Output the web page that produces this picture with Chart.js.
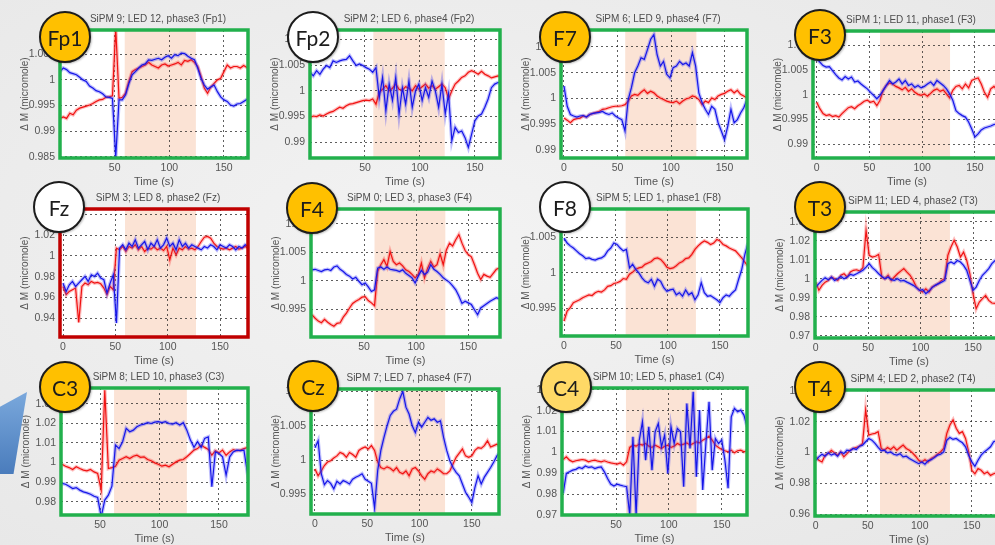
<!DOCTYPE html>
<html>
<head>
<meta charset="utf-8">
<title>fNIRS channel responses</title>
<script src="https://cdn.jsdelivr.net/npm/chart.js@4.4.1/dist/chart.umd.min.js"></script>
<style>
  html, body { margin: 0; padding: 0; }
  body {
    width: 995px; height: 545px; overflow: hidden; position: relative;
    background: radial-gradient(ellipse at 45% 45%, #f3f3f3 0%, #e7e7e7 100%);
    font-family: "Liberation Sans", Arial, sans-serif;
  }
  canvas.panel { position: absolute; }
  .badge {
    position: absolute; width: 48px; height: 48px; border: 2px solid #1c1c1c;
    border-radius: 50%; display: flex; align-items: center; justify-content: center;
    font-family: Lato, "Open Sans", sans-serif; font-size: 21px; color: #1c1c1c;
    z-index: 5; box-shadow: 1px 1px 2px rgba(0,0,0,0.25);
  }
  .badge.amber { background: #ffc000; }
  .badge.pale  { background: #ffd966; }
  .badge.blank { background: #ffffff; }
  .tab {
    position: absolute; left: 0; top: 392px; width: 30px; height: 82px; z-index: 1;
    background: linear-gradient(180deg, #7aa8dc 0%, #4a7cbc 100%);
    clip-path: polygon(0 18%, 90% 0, 45% 100%, 0 100%);
  }
</style>
</head>
<body>
<div class="tab"></div>
<script>
// sample times (s)
const seconds = [0,3,6,9,12,15,18,21,24,27,30,33,36,39,42,45,48,51,54,57,60,63,66,69,72,75,78,81,84,87,90,93,96,99,102,105,108,111,114,117,120,123,126,129,132,135,138,141,144,147,150,153,156,159,162,165,168,171,174,177,180];

// ---- oxy (red) / deoxy (blue) traces, one pair per channel ----
const fp1Red = [0.9925,0.9928,0.9925,0.9935,0.9932,0.9941,0.9945,0.9947,0.9949,0.9951,0.9954,0.9958,0.9961,0.9962,0.9966,0.9967,0.9969,1.0100,0.9964,0.9966,0.9974,0.9997,1.0016,1.0020,1.0023,1.0026,1.0029,1.0034,1.0029,1.0026,1.0023,1.0029,1.0031,1.0027,1.0029,1.0031,1.0034,1.0029,1.0038,1.0036,1.0039,1.0034,1.0026,1.0007,0.9984,0.9974,0.9986,0.9993,1.0000,1.0003,1.0016,1.0029,1.0023,1.0026,1.0026,1.0023,1.0028,1.0024,1.0027];
const fp1Blue = [1.0016,1.0023,1.0020,1.0014,1.0012,1.0010,1.0005,1.0000,0.9997,0.9988,0.9984,0.9979,0.9977,0.9973,0.9967,0.9966,0.9964,0.9850,0.9961,0.9961,0.9971,0.9993,1.0010,1.0016,1.0023,1.0029,1.0031,1.0039,1.0038,1.0040,1.0042,1.0039,1.0044,1.0047,1.0042,1.0049,1.0047,1.0052,1.0051,1.0046,1.0042,1.0039,1.0023,1.0003,0.9990,0.9982,0.9986,0.9990,0.9977,0.9967,0.9961,0.9958,0.9951,0.9949,0.9953,0.9954,0.9958,0.9962,0.9961];

const fp2Red = [0.9948,0.9951,0.9950,0.9953,0.9951,0.9955,0.9958,0.9960,0.9964,0.9968,0.9966,0.9971,0.9974,0.9975,0.9977,0.9979,0.9981,0.9982,0.9981,0.9984,0.9974,0.9997,1.0003,1.0010,1.0000,1.0005,1.0013,1.0003,1.0001,1.0008,1.0005,1.0000,1.0010,1.0003,1.0008,1.0013,1.0005,1.0010,1.0003,1.0008,1.0013,1.0006,0.9984,1.0000,1.0013,1.0019,1.0026,1.0029,1.0036,1.0039,1.0036,1.0032,1.0038,1.0032,1.0029,1.0025,1.0027,1.0029,1.0027];
const fp2Blue = [1.0036,1.0029,1.0039,1.0032,1.0042,1.0049,1.0045,1.0058,1.0055,1.0058,1.0060,1.0061,1.0068,1.0058,1.0049,1.0052,1.0049,1.0045,1.0042,1.0036,1.0045,0.9987,1.0026,0.9961,1.0013,0.9981,1.0026,0.9955,1.0006,0.9974,1.0019,0.9968,1.0000,1.0013,0.9981,1.0006,0.9987,1.0019,1.0000,0.9968,1.0013,0.9955,0.9994,0.9903,0.9929,0.9919,0.9922,0.9909,0.9890,0.9916,0.9942,0.9951,0.9955,0.9968,0.9984,1.0006,1.0013,1.0016,1.0016];

const f7Red = [0.9962,0.9958,0.9953,0.9959,0.9961,0.9962,0.9966,0.9964,0.9969,0.9971,0.9973,0.9975,0.9979,0.9980,0.9982,0.9984,0.9985,0.9985,0.9986,0.9988,0.9995,1.0005,1.0008,1.0006,1.0012,1.0017,1.0010,1.0014,1.0011,1.0005,1.0001,0.9998,0.9995,0.9993,0.9992,0.9995,0.9990,0.9995,0.9999,1.0001,1.0005,1.0003,0.9998,0.9988,0.9995,0.9992,1.0001,0.9998,1.0005,1.0008,1.0010,1.0014,1.0017,1.0011,1.0016,1.0008,1.0005,1.0001,0.9999];
const f7Blue = [1.0024,0.9985,0.9969,0.9966,0.9964,0.9966,0.9967,0.9964,0.9969,0.9971,0.9972,0.9973,0.9975,0.9971,0.9969,0.9972,0.9966,0.9962,0.9959,0.9937,0.9998,1.0021,1.0050,1.0063,1.0079,1.0076,1.0095,1.0115,1.0124,1.0085,1.0063,1.0072,1.0047,1.0040,1.0060,1.0063,1.0072,1.0066,1.0069,1.0063,1.0089,1.0063,1.0011,0.9992,0.9979,0.9969,0.9985,0.9979,0.9953,0.9937,0.9920,0.9946,0.9979,0.9953,0.9959,0.9972,0.9982,0.9998,1.0001];

const f3Red = [0.9985,0.9972,0.9962,0.9958,0.9960,0.9956,0.9958,0.9955,0.9962,0.9968,0.9974,0.9976,0.9972,0.9978,0.9982,0.9987,0.9989,0.9985,0.9987,0.9978,0.9989,1.0009,1.0019,1.0024,1.0022,1.0017,1.0014,1.0010,1.0015,1.0007,1.0012,1.0005,1.0001,0.9999,1.0002,0.9997,1.0003,1.0009,1.0012,1.0007,1.0010,1.0002,0.9994,1.0009,1.0017,1.0019,1.0012,1.0022,1.0014,1.0029,1.0032,1.0034,1.0022,1.0005,0.9995,1.0012,1.0017,1.0010,1.0015,1.0012];
const f3Blue = [1.0073,1.0066,1.0059,1.0056,1.0057,1.0049,1.0041,1.0034,1.0030,1.0037,1.0032,1.0036,1.0026,1.0028,1.0022,1.0017,1.0012,1.0005,0.9999,0.9992,0.9999,1.0009,1.0019,1.0029,1.0022,1.0026,1.0032,1.0022,1.0029,1.0019,1.0022,1.0015,1.0019,1.0014,1.0017,1.0022,1.0026,1.0019,1.0029,1.0024,1.0019,1.0012,1.0002,0.9989,0.9968,0.9962,0.9958,0.9955,0.9945,0.9931,0.9915,0.9921,0.9929,0.9933,0.9935,0.9937,0.9940,0.9941,0.9944,0.9942];

const fzRed = [0.9706,0.9626,0.9658,0.9674,0.9690,0.9360,0.9706,0.9738,0.9722,0.9754,0.9738,0.9744,0.9731,0.9690,0.9626,0.9706,0.9674,1.0074,1.0058,1.0090,1.0042,1.0090,1.0074,1.0106,1.0058,1.0090,1.0042,1.0074,1.0064,1.0090,1.0058,1.0074,1.0051,1.0090,0.9962,1.0074,1.0010,1.0074,1.0058,1.0090,1.0064,1.0074,1.0058,1.0090,1.0138,1.0179,1.0186,1.0170,1.0122,1.0090,1.0074,1.0064,1.0074,1.0058,1.0074,1.0090,1.0064,1.0074,1.0090,1.0074];
const fzBlue = [0.9738,0.9658,0.9722,0.9754,0.9706,0.9738,0.9770,0.9802,0.9754,0.9818,0.9802,0.9834,0.9786,0.9770,0.9642,0.9738,0.9818,0.9354,1.0074,1.0106,1.0058,1.0122,1.0090,1.0154,1.0074,1.0106,1.0138,1.0058,1.0122,1.0090,1.0154,1.0074,1.0106,1.0170,1.0090,1.0122,1.0058,1.0154,1.0090,1.0122,1.0074,1.0106,1.0090,1.0074,1.0058,1.0090,1.0074,1.0106,1.0090,1.0058,1.0106,1.0090,1.0074,1.0106,1.0090,1.0058,1.0090,1.0074,1.0106,1.0090];

const f4Red = [0.9940,0.9934,0.9929,0.9926,0.9932,0.9927,0.9923,0.9920,0.9925,0.9926,0.9936,0.9943,0.9952,0.9960,0.9964,0.9967,0.9971,0.9972,0.9965,0.9961,0.9956,1.0016,1.0028,1.0037,1.0025,1.0051,1.0034,1.0028,1.0031,1.0026,1.0019,1.0016,1.0011,1.0005,1.0011,1.0031,1.0005,1.0022,1.0034,1.0024,1.0028,1.0047,1.0028,1.0054,1.0066,1.0061,1.0072,1.0081,1.0066,1.0053,1.0046,1.0042,1.0028,1.0013,1.0002,1.0011,1.0008,1.0006,1.0013,1.0020,1.0022];
const f4Blue = [1.0019,1.0020,1.0018,1.0016,1.0019,1.0020,1.0018,1.0024,1.0026,1.0020,1.0016,1.0011,1.0008,1.0003,1.0006,0.9999,0.9993,0.9996,0.9989,0.9981,0.9984,1.0022,1.0024,1.0020,1.0024,1.0020,1.0019,1.0018,1.0016,1.0019,1.0013,1.0009,1.0005,0.9996,1.0008,1.0018,1.0011,1.0015,1.0028,1.0020,1.0016,1.0011,1.0005,1.0001,0.9997,0.9991,0.9984,0.9973,0.9960,0.9964,0.9961,0.9958,0.9949,0.9940,0.9952,0.9956,0.9960,0.9964,0.9967,0.9970,0.9968];

const f8Red = [0.9932,0.9946,0.9951,0.9958,0.9960,0.9962,0.9965,0.9967,0.9969,0.9968,0.9972,0.9974,0.9973,0.9976,0.9981,0.9982,0.9985,0.9986,0.9988,0.9992,0.9991,0.9998,1.0001,1.0005,1.0007,1.0008,1.0012,1.0014,1.0016,1.0020,1.0021,1.0019,1.0014,1.0008,1.0006,1.0007,1.0010,1.0014,1.0016,1.0020,1.0021,1.0026,1.0033,1.0038,1.0042,1.0045,1.0043,1.0040,1.0042,1.0047,1.0045,1.0040,1.0038,1.0035,1.0033,1.0031,1.0026,1.0021,1.0015,1.0009,1.0007];
const f8Blue = [1.0049,1.0042,1.0038,1.0035,1.0031,1.0027,1.0024,1.0020,1.0021,1.0019,1.0018,1.0020,1.0021,1.0024,1.0031,1.0035,1.0042,1.0040,1.0035,1.0031,1.0033,1.0007,1.0012,1.0005,1.0000,0.9993,0.9988,0.9986,0.9991,0.9981,0.9991,0.9988,0.9979,0.9974,0.9976,0.9977,0.9969,0.9972,0.9967,0.9976,0.9969,0.9972,0.9962,0.9969,0.9986,0.9972,0.9967,0.9968,0.9965,0.9962,0.9958,0.9965,0.9969,0.9967,0.9972,0.9976,0.9991,1.0005,1.0026,1.0042,1.0049];

const t3Red = [0.9982,0.9939,0.9965,0.9982,0.9991,1.0009,1.0000,0.9991,1.0018,1.0026,1.0009,1.0035,1.0044,1.0047,1.0040,1.0058,1.0254,1.0123,1.0114,1.0118,1.0128,1.0009,1.0000,1.0018,0.9991,1.0009,1.0026,1.0040,1.0053,1.0035,1.0018,0.9991,0.9956,0.9939,0.9930,0.9947,0.9930,0.9956,0.9965,0.9974,0.9991,1.0000,1.0123,1.0167,1.0202,1.0167,1.0114,1.0140,1.0096,1.0026,0.9921,0.9842,0.9877,0.9895,0.9912,0.9886,0.9872,0.9870,0.9880,0.9865,0.9875];
const t3Blue = [0.9956,0.9974,0.9991,1.0005,0.9995,1.0009,0.9991,1.0000,1.0012,1.0000,1.0009,1.0023,1.0018,1.0026,1.0035,1.0044,1.0061,1.0079,1.0058,1.0044,1.0026,1.0012,1.0000,1.0009,0.9995,0.9991,1.0000,0.9988,0.9991,0.9982,0.9974,0.9965,0.9953,0.9939,0.9942,0.9921,0.9935,0.9953,0.9965,0.9974,0.9982,0.9991,1.0079,1.0088,1.0079,1.0096,1.0088,1.0070,1.0044,0.9991,0.9939,0.9956,0.9991,1.0018,1.0035,1.0053,1.0079,1.0096,1.0100,1.0110,1.0105];

const c3Red = [null,null,null,null,null,null,0.9991,0.9981,0.9974,0.9964,0.9978,0.9969,0.9961,0.9957,0.9964,0.9952,0.9944,0.9859,1.0369,0.9969,0.9974,0.9981,1.0012,1.0020,1.0029,1.0020,1.0032,1.0037,1.0026,1.0029,1.0015,1.0009,0.9998,0.9991,0.9981,0.9986,0.9978,0.9991,1.0003,1.0012,1.0015,1.0029,1.0046,1.0063,1.0071,1.0089,1.0077,1.0066,1.0037,1.0060,1.0049,1.0063,1.0037,1.0054,1.0066,1.0060,1.0063,1.0071,1.0077,1.0070];
const c3Blue = [null,null,null,null,null,null,0.9893,0.9889,0.9879,0.9867,0.9872,0.9859,0.9850,0.9845,0.9838,0.9828,0.9821,0.9723,0.9808,0.9833,0.9879,1.0089,1.0071,1.0106,1.0174,1.0157,1.0165,1.0182,1.0191,1.0196,1.0203,1.0199,1.0206,1.0208,1.0203,1.0208,1.0199,1.0196,1.0203,1.0191,1.0203,1.0165,1.0114,1.0077,1.0106,1.0077,1.0123,1.0131,0.9876,1.0054,1.0046,1.0029,0.9935,1.0029,1.0054,1.0063,1.0060,1.0063,0.9944,1.0050];

const czRed = [0.9987,0.9977,0.9984,0.9992,0.9997,0.9999,1.0003,1.0006,1.0011,1.0009,1.0004,1.0011,1.0008,1.0004,1.0014,1.0017,1.0019,1.0016,1.0021,1.0014,0.9997,0.9989,0.9987,0.9990,0.9988,0.9984,0.9989,0.9982,0.9980,0.9984,0.9977,0.9987,0.9989,0.9984,0.9977,0.9972,0.9980,0.9984,0.9982,0.9987,0.9984,0.9980,0.9980,0.9984,0.9994,1.0004,1.0010,1.0016,1.0006,1.0004,1.0006,1.0014,1.0018,1.0017,1.0021,1.0028,1.0019,1.0021,1.0023,1.0020];
const czBlue = [1.0018,1.0028,0.9980,0.9964,0.9970,0.9966,0.9958,0.9969,0.9965,0.9970,0.9968,0.9965,0.9972,0.9975,0.9977,0.9980,0.9972,0.9969,0.9966,0.9930,0.9985,1.0014,1.0033,1.0050,1.0065,1.0071,1.0074,1.0089,1.0100,1.0077,1.0067,1.0050,1.0040,1.0055,1.0048,1.0055,1.0062,1.0058,1.0060,1.0055,1.0057,1.0033,1.0014,0.9999,0.9989,0.9982,0.9977,0.9965,0.9953,0.9946,0.9938,0.9960,0.9977,0.9965,0.9975,0.9982,0.9989,0.9997,1.0006,1.0012];

const c4Red = [0.9966,0.9979,0.9963,0.9955,0.9960,0.9963,0.9966,0.9963,0.9955,0.9960,0.9963,0.9958,0.9955,0.9960,0.9954,0.9950,0.9947,0.9944,0.9950,0.9939,0.9955,1.0024,1.0035,1.0030,1.0040,1.0035,1.0043,1.0030,1.0024,1.0035,1.0027,1.0019,1.0030,1.0035,1.0024,1.0030,1.0043,1.0035,1.0040,1.0046,1.0035,1.0043,1.0051,1.0046,1.0059,1.0067,1.0078,1.0059,1.0035,1.0024,1.0014,1.0008,1.0003,1.0011,0.9998,1.0008,1.0011,1.0003,1.0008];
const c4Blue = [0.9804,0.9899,0.9907,0.9915,0.9919,0.9928,0.9923,0.9935,0.9928,0.9931,0.9923,0.9928,0.9931,0.9907,0.9875,0.9848,0.9839,0.9848,0.9843,0.9839,0.9836,0.9700,1.0075,0.9700,1.0059,1.0147,0.9963,1.0123,0.9915,1.0099,1.0139,1.0027,1.0083,0.9899,1.0123,1.0043,1.0115,1.0099,0.9836,1.0235,1.0019,1.0291,0.9883,1.0203,0.9820,1.0043,1.0243,0.9915,1.0067,1.0043,1.0059,0.9963,0.9828,1.0171,1.0211,1.0195,1.0203,1.0179,1.0123];

const t4Red = [0.9972,0.9950,0.9939,0.9983,0.9993,1.0015,0.9998,0.9983,1.0004,0.9972,0.9993,1.0015,1.0026,1.0033,1.0041,1.0059,1.0276,1.0113,1.0120,1.0124,1.0135,1.0026,1.0015,1.0033,1.0020,1.0037,1.0015,1.0033,1.0048,1.0026,1.0015,0.9998,0.9976,0.9950,0.9939,0.9954,0.9939,0.9961,0.9972,0.9989,1.0004,1.0026,1.0124,1.0178,1.0211,1.0157,1.0124,1.0135,1.0091,1.0004,0.9885,0.9863,0.9896,0.9885,0.9863,0.9874,0.9852,0.9863,0.9870,0.9858,0.9866];
const t4Blue = [0.9950,0.9972,0.9989,0.9976,0.9998,0.9983,0.9993,0.9976,1.0004,0.9993,1.0015,1.0011,1.0026,1.0020,1.0041,1.0048,1.0070,1.0091,1.0080,1.0059,1.0033,1.0011,1.0015,0.9998,1.0004,0.9989,0.9983,0.9993,0.9972,0.9976,0.9961,0.9950,0.9939,0.9928,0.9939,0.9924,0.9946,0.9954,0.9967,0.9983,0.9989,1.0004,1.0080,1.0098,1.0085,1.0091,1.0076,1.0063,1.0037,0.9983,0.9939,0.9911,0.9950,0.9983,1.0004,1.0020,1.0037,1.0070,1.0078,1.0085,1.0080];

// ---- per-channel labels, stimulus windows, axis limits and tick labels ----
const channelNames = ['Fp1','Fp2','F7','F3','Fz','F4','F8','T3','C3','Cz','C4','T4'];
const panelTitles = [
  'SiPM 9; LED 12, phase3 (Fp1)', 'SiPM 2; LED 6, phase4 (Fp2)', 'SiPM 6; LED 9, phase4 (F7)', 'SiPM 1; LED 11, phase1 (F3)',
  'SiPM 3; LED 8, phase2 (Fz)',   'SiPM 0; LED 3, phase3 (F4)',  'SiPM 5; LED 1, phase1 (F8)', 'SiPM 11; LED 4, phase2 (T3)',
  'SiPM 8; LED 10, phase3 (C3)',  'SiPM 7; LED 7, phase4 (F7)',  'SiPM 10; LED 5, phase1 (C4)', 'SiPM 4; LED 2, phase2 (T4)'
];
const redSeries  = [fp1Red, fp2Red, f7Red, f3Red, fzRed, f4Red, f8Red, t3Red, c3Red, czRed, c4Red, t4Red];
const blueSeries = [fp1Blue, fp2Blue, f7Blue, f3Blue, fzBlue, f4Blue, f8Blue, t3Blue, c3Blue, czBlue, c4Blue, t4Blue];
const stimWindows = [[59.2,124.3],[57.6,122.5],[57.2,123.7],[60,126.4],[59.2,127],[60,128],[59.3,126.9],[61.3,128],[61.8,123],[56.7,124.4],[59.4,126.2],[61.8,129]];
const xLimits = [[0,172],[0,172.8],[-2.8,171],[-3.5,174.7],[-2.9,176.7],[-1,180.5],[-2.9,177],[-0.7,178.6],[17.2,174.4],[-3.8,176],[-1.1,173.9],[-0.7,180]];
const yLimits = [[0.9848,1.0097],[0.98695,1.0118],[0.98845,1.0133],[0.98723,1.0129],[0.922,1.045],[0.9901,1.0126],[0.9911,1.009],[0.9688,1.0351],[0.9732,1.038],[0.99213,1.01035],[0.97,1.0309],[0.9589,1.0405]];
const xTickValues = [[50,100,150],[50,100,150],[0,50,100,150],[0,50,100,150],[0,50,100,150],[50,100,150],[0,50,100,150],[0,50,100,150],[50,100,150],[0,50,100,150],[50,100,150],[0,50,100,150]];
const yTickValues = [
  [0.985,0.99,0.995,1,1.005], [0.99,0.995,1,1.005,1.01], [0.99,0.995,1,1.005,1.01], [0.99,0.995,1,1.005,1.01],
  [0.94,0.96,0.98,1,1.02,1.04], [0.995,1,1.005,1.01], [0.995,1,1.005], [0.97,0.98,0.99,1,1.01,1.02,1.03],
  [0.98,0.99,1,1.01,1.02,1.03], [0.995,1,1.005,1.01], [0.97,0.98,0.99,1,1.01,1.02,1.03], [0.96,0.98,1,1.02,1.04]
];

// ---- page layout: plot rectangles (left, top, right, bottom) and badges ----
const plotRects = [
  [60,30,248,158],[310,30,500,158],[561,30,747,158],[813,31,1001,158],
  [60,209,248,337],[311,209,500,337],[561,209,748,336],[815,212,1003,338],
  [61,388,248,515],[311,389,499,514],[562,388,747,515],[815,390,1003,516]
];
const frameColors = ['#22b04c','#22b04c','#22b04c','#22b04c','#c00000','#22b04c','#22b04c','#22b04c','#22b04c','#22b04c','#22b04c','#22b04c'];
const badgeCenters = [[65,37],[313,37],[565,37],[820,35],[59,207],[312,208],[565,207],[820,207],[65,387],[313,386],[566,387],[820,387]];
const badgeStyles = ['amber','blank','amber','amber','blank','amber','blank','amber','amber','amber','pale','amber'];

const AXIS_FONT = '"Liberation Sans", Arial, Helvetica, sans-serif';
const Y_AXIS_W = 60, X_AXIS_H = 31, PAD_TOP = 24, PAD_RIGHT = 3;

const fmtTick = v => String(parseFloat(Number(v).toFixed(4)));
const toPoints = vals => vals.map((v, k) => ({ x: seconds[k], y: v }));

// white plot background, stimulus band, coloured frame and panel title
const panelDecor = {
  id: 'panelDecor',
  beforeDraw(chart, args, opts) {
    const { ctx, chartArea: a, scales: { x } } = chart;
    ctx.save();
    ctx.fillStyle = '#ffffff';
    ctx.fillRect(a.left, a.top, a.width, a.height);
    const x0 = Math.max(a.left, x.getPixelForValue(opts.stim[0]));
    const x1 = Math.min(a.right, x.getPixelForValue(opts.stim[1]));
    ctx.fillStyle = '#fbe3d5';
    ctx.fillRect(x0, a.top, x1 - x0, a.height);
    ctx.restore();
  },
  afterDraw(chart, args, opts) {
    const { ctx, chartArea: a } = chart;
    ctx.save();
    ctx.strokeStyle = opts.frame;
    ctx.lineWidth = 3.5;
    ctx.strokeRect(a.left, a.top, a.width, a.height);
    ctx.fillStyle = '#4d4d4d';
    ctx.font = '10px ' + AXIS_FONT;
    ctx.textAlign = 'center';
    ctx.textBaseline = 'middle';
    ctx.fillText(opts.title, (a.left + a.right) / 2 + 4, a.top - 11);
    ctx.restore();
  }
};

plotRects.forEach((rect, i) => {
  const [l, t, r, b] = rect;
  const w = (r - l) + Y_AXIS_W + PAD_RIGHT;
  const h = (b - t) + PAD_TOP + X_AXIS_H;
  const cv = document.createElement('canvas');
  cv.className = 'panel';
  cv.width = w; cv.height = h;
  cv.style.left = (l - Y_AXIS_W) + 'px';
  cv.style.top = (t - PAD_TOP) + 'px';
  cv.style.width = w + 'px';
  cv.style.height = h + 'px';
  document.body.appendChild(cv);

  const xt = xTickValues[i], yt = yTickValues[i];
  new Chart(cv, {
    type: 'line',
    data: {
      datasets: [
        { data: toPoints(blueSeries[i]), borderColor: 'rgb(22,22,232)', borderWidth: 1.2 },
        { data: toPoints(blueSeries[i]), borderColor: 'rgba(70,70,245,0.35)', borderWidth: 3.6 },
        { data: toPoints(redSeries[i]), borderColor: 'rgb(240,18,18)', borderWidth: 1.2 },
        { data: toPoints(redSeries[i]), borderColor: 'rgba(250,70,70,0.35)', borderWidth: 3.6 }
      ]
    },
    options: {
      responsive: false,
      animation: false,
      events: [],
      layout: { padding: { left: 0, right: PAD_RIGHT, top: PAD_TOP, bottom: 0 } },
      elements: { point: { radius: 0 }, line: { tension: 0, fill: false } },
      spanGaps: false,
      plugins: {
        legend: { display: false },
        tooltip: { enabled: false },
        panelDecor: { stim: stimWindows[i], frame: frameColors[i], title: panelTitles[i] }
      },
      scales: {
        x: {
          type: 'linear',
          min: xLimits[i][0], max: xLimits[i][1],
          afterBuildTicks: s => { s.ticks = xt.map(v => ({ value: v })); },
          afterFit: s => { s.height = X_AXIS_H; },
          grid: { drawTicks: false, color: 'rgba(25,25,25,0.7)', lineWidth: 1 },
          border: { display: false, dash: [2, 3] },
          ticks: { autoSkip: false, maxRotation: 0, padding: 4, color: '#555', font: { family: AXIS_FONT, size: 10.5 }, callback: v => fmtTick(v) },
          title: { display: true, text: 'Time (s)', color: '#555', padding: { top: 0, bottom: 0 }, font: { family: AXIS_FONT, size: 11 } }
        },
        y: {
          type: 'linear',
          min: yLimits[i][0], max: yLimits[i][1],
          afterBuildTicks: s => { s.ticks = yt.map(v => ({ value: v })); },
          afterFit: s => { s.width = Y_AXIS_W; },
          grid: { drawTicks: false, color: 'rgba(25,25,25,0.7)', lineWidth: 1 },
          border: { display: false, dash: [2, 3] },
          ticks: { autoSkip: false, padding: 5, color: '#555', font: { family: AXIS_FONT, size: 10.5 }, callback: v => fmtTick(v) },
          title: { display: true, text: 'Δ M (micromole)', color: '#555', padding: { top: 19, bottom: 0 }, font: { family: AXIS_FONT, size: 10 } }
        }
      }
    },
    plugins: [panelDecor]
  });

  const badge = document.createElement('div');
  badge.className = 'badge ' + badgeStyles[i];
  badge.style.left = (badgeCenters[i][0] - 26) + 'px';
  badge.style.top = (badgeCenters[i][1] - 26) + 'px';
  badge.textContent = channelNames[i];
  document.body.appendChild(badge);
});
</script>
</body>
</html>
